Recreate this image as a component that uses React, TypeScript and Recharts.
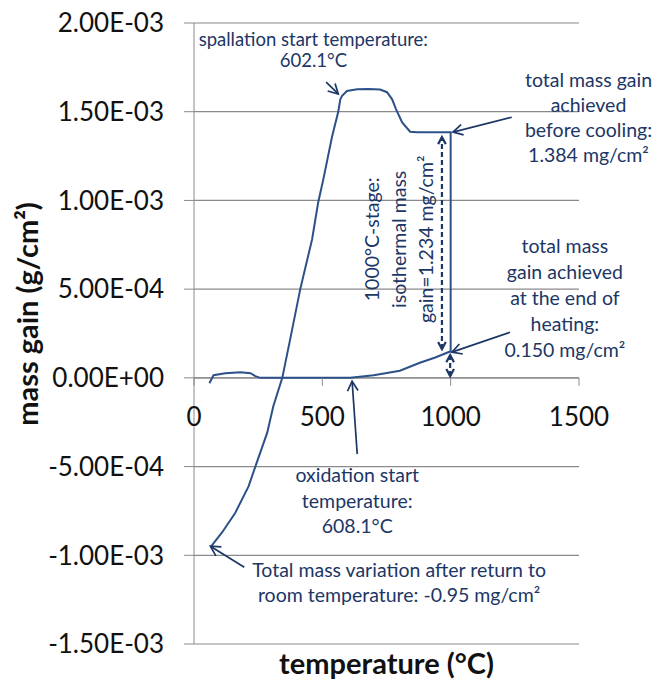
import React from 'react';
import { LineChart, Line, XAxis, YAxis, CartesianGrid, ReferenceLine, ReferenceDot } from 'recharts';

// ---- data (temperature in °C, mass gain in g/cm²), in the order the curve is drawn ----
const temperature = [
  60, 76, 122, 181, 220, 239, 258, 350, 450, 550, 609, 700, 802, 880, 940, 1000,
  1000, 940, 870, 842, 811, 787, 772, 752, 725, 680, 636, 596, 577, 570, 562,
  538, 504, 484, 460, 414, 375, 344, 309, 285, 239, 213, 161, 110, 72, 65,
];
const massGain = [
  -3e-5, 1.5e-5, 2.6e-5, 3.2e-5, 2.6e-5, 1e-5, 0, 0, 0, 0, 0, 1.5e-5, 4e-5, 8.5e-5, 1.15e-4, 1.5e-4,
  1.384e-3, 1.384e-3, 1.384e-3, 1.387e-3, 1.44e-3, 1.515e-3, 1.57e-3, 1.61e-3, 1.625e-3, 1.628e-3, 1.627e-3, 1.617e-3, 1.59e-3, 1.57e-3, 1.5e-3,
  1.36e-3, 1.12e-3, 0.99e-3, 0.78e-3, 0.5e-3, 0.22e-3, 0, -0.16e-3, -0.31e-3, -0.5e-3, -0.61e-3, -0.76e-3, -0.87e-3, -0.94e-3, -0.955e-3,
];
const yTicks = [-0.0015, -0.001, -0.0005, 0, 0.0005, 0.001, 0.0015, 0.002];
const xTicks = [0, 500, 1000, 1500];

const xTitle = 'temperature (°C)';
const yTitle = 'mass gain (g/cm²)';

// annotation texts, anchored in data coordinates
const notes = [
  { x: 465, y: 1.87e-3, lh: 21, fs: 18.5, rotate: false, lines: ['spallation start temperature:', '602.1°C'] },
  { x: 1537, y: 1.639e-3, lh: 25, fs: 19.5, rotate: false, lines: ['total mass gain', 'achieved', 'before cooling:', '1.384 mg/cm²'] },
  { x: 721, y: 7.81e-4, lh: 27, fs: 19.5, rotate: true, lines: ['1000°C-stage:', 'isothermal mass', 'gain=1.234 mg/cm²'] },
  { x: 1445, y: 7.03e-4, lh: 26, fs: 19.5, rotate: false, lines: ['total mass', 'gain achieved', 'at the end of', 'heating:', '0.150 mg/cm²'] },
  { x: 636, y: -5.87e-4, lh: 25.5, fs: 19.5, rotate: false, lines: ['oxidation start', 'temperature:', '608.1°C'] },
  { x: 799, y: -1.124e-3, lh: 25, fs: 19.5, rotate: false, lines: ['Total mass variation after return to', 'room temperature: -0.95 mg/cm²'] },
];

// annotation arrows (tail -> head), in data coordinates
const arrows = [
  { x1: 515, y1: 1.667e-3, x2: 562, y2: 1.6e-3, dashed: false, both: false },
  { x1: 1238, y1: 1.469e-3, x2: 1009, y2: 1.385e-3, dashed: false, both: false },
  { x1: 1231, y1: 2.57e-4, x2: 1005, y2: 1.45e-4, dashed: false, both: false },
  { x1: 636, y1: -4.3e-4, x2: 616, y2: -1.9e-5, dashed: false, both: false },
  { x1: 196, y1: -1.067e-3, x2: 64, y2: -0.949e-3, dashed: false, both: false },
  { x1: 966, y1: 1.62e-4, x2: 966, y2: 1.357e-3, dashed: true, both: true },
  { x1: 998, y1: 1e-5, x2: 998, y2: 1.28e-4, dashed: true, both: true },
];

const data = temperature.map((t, i) => ({ t, m: massGain[i] }));

const FONT = "Lato, 'Open Sans', sans-serif";
const NAVY = '#1c3666';
const LINE = '#2c5189';
const GRID = '#8a8a8a';

const sci = (v: number) => {
  const [mant, exp] = v.toExponential(2).split('e');
  const e = parseInt(exp, 10);
  return `${mant}E${e < 0 ? '-' : '+'}${String(Math.abs(e)).padStart(2, '0')}`;
};

const head = (x: number, y: number, ang: number, len: number) => {
  const a1 = ang + Math.PI - 0.5;
  const a2 = ang + Math.PI + 0.5;
  return `M${x + len * Math.cos(a1)},${y + len * Math.sin(a1)} L${x},${y} L${x + len * Math.cos(a2)},${y + len * Math.sin(a2)}`;
};

const makeArrow = (dashed: boolean, both: boolean) => (p: any) => {
  const { x1, y1, x2, y2 } = p;
  const ang = Math.atan2(y2 - y1, x2 - x1);
  const len = both ? 8 : 11;
  return (
    <g>
      <line x1={x1} y1={y1} x2={x2} y2={y2} stroke={NAVY} strokeWidth={dashed ? 2.2 : 1.7} strokeDasharray={dashed ? '5 3' : undefined} />
      <path d={head(x2, y2, ang, len)} fill="none" stroke={NAVY} strokeWidth={dashed ? 2.2 : 1.7} />
      {both && <path d={head(x1, y1, ang + Math.PI, len)} fill="none" stroke={NAVY} strokeWidth={2.2} />}
    </g>
  );
};

const makeNote = (lines: string[], lh: number, fs: number, rotate: boolean) => (p: any) => {
  const { cx, cy } = p;
  return (
    <text
      x={cx}
      y={cy}
      textAnchor="middle"
      fill={NAVY}
      fontSize={fs}
      fontFamily={FONT}
      transform={rotate ? `rotate(-90 ${cx} ${cy})` : undefined}
    >
      {lines.map((l, i) => (
        <tspan key={i} x={cx} dy={i === 0 ? 0 : lh}>{l}</tspan>
      ))}
    </text>
  );
};

const makeXTick = (label: string) => (p: any) => {
  const { cx, cy } = p;
  return (
    <g>
      <line x1={cx} y1={cy} x2={cx} y2={cy + 8} stroke={GRID} strokeWidth={1} />
      <text x={cx} y={cy + 48} textAnchor="middle" fontSize={26} fontFamily={FONT} fill="#111">{label}</text>
    </g>
  );
};

export default function App() {
  return (
    <div style={{ position: 'absolute', left: 0, top: 0, background: '#fff' }}>
      <LineChart width={657} height={679} data={data} margin={{ top: 23, right: 78, bottom: 0, left: 0 }}>
        <CartesianGrid horizontal vertical={false} stroke={GRID} strokeWidth={1.2} />
        <XAxis
          type="number"
          dataKey="t"
          domain={[0, 1500]}
          ticks={xTicks}
          tick={false}
          tickLine={false}
          axisLine={false}
          height={35}
          label={{
            content: ({ viewBox }: any) => (
              <text x={viewBox.x + viewBox.width / 2} y={viewBox.y + 30} textAnchor="middle" fontWeight="bold" fontSize={29} fontFamily={FONT} fill="#111">
                {xTitle}
              </text>
            ),
          }}
        />
        <YAxis
          type="number"
          domain={[-0.0015, 0.002]}
          ticks={yTicks}
          interval={0}
          width={194}
          tickFormatter={sci}
          tickSize={10}
          tickMargin={20}
          stroke={GRID}
          tick={{ fontSize: 26, fontFamily: FONT, fill: '#111' }}
          label={{
            content: ({ viewBox }: any) => {
              const x = viewBox.x + 38;
              const y = 314;
              return (
                <text x={x} y={y} transform={`rotate(-90 ${x} ${y})`} textAnchor="middle" fontWeight="bold" fontSize={29} fontFamily={FONT} fill="#111">
                  {yTitle}
                </text>
              );
            },
          }}
        />
        <ReferenceLine y={0} stroke={GRID} strokeWidth={1.2} />
        {xTicks.map((t) => (
          <ReferenceDot key={`xt${t}`} x={t} y={0} r={0} ifOverflow="visible" shape={makeXTick(String(t))} />
        ))}
        <Line type="linear" dataKey="m" stroke={LINE} strokeWidth={2} dot={false} isAnimationActive={false} />
        {arrows.map((a, i) => (
          <ReferenceLine
            key={`ar${i}`}
            segment={[{ x: a.x1, y: a.y1 }, { x: a.x2, y: a.y2 }]}
            ifOverflow="visible"
            shape={makeArrow(a.dashed, a.both)}
          />
        ))}
        {notes.map((n, i) => (
          <ReferenceDot key={`nt${i}`} x={n.x} y={n.y} r={0} ifOverflow="visible" shape={makeNote(n.lines, n.lh, n.fs, n.rotate)} />
        ))}
      </LineChart>
    </div>
  );
}
